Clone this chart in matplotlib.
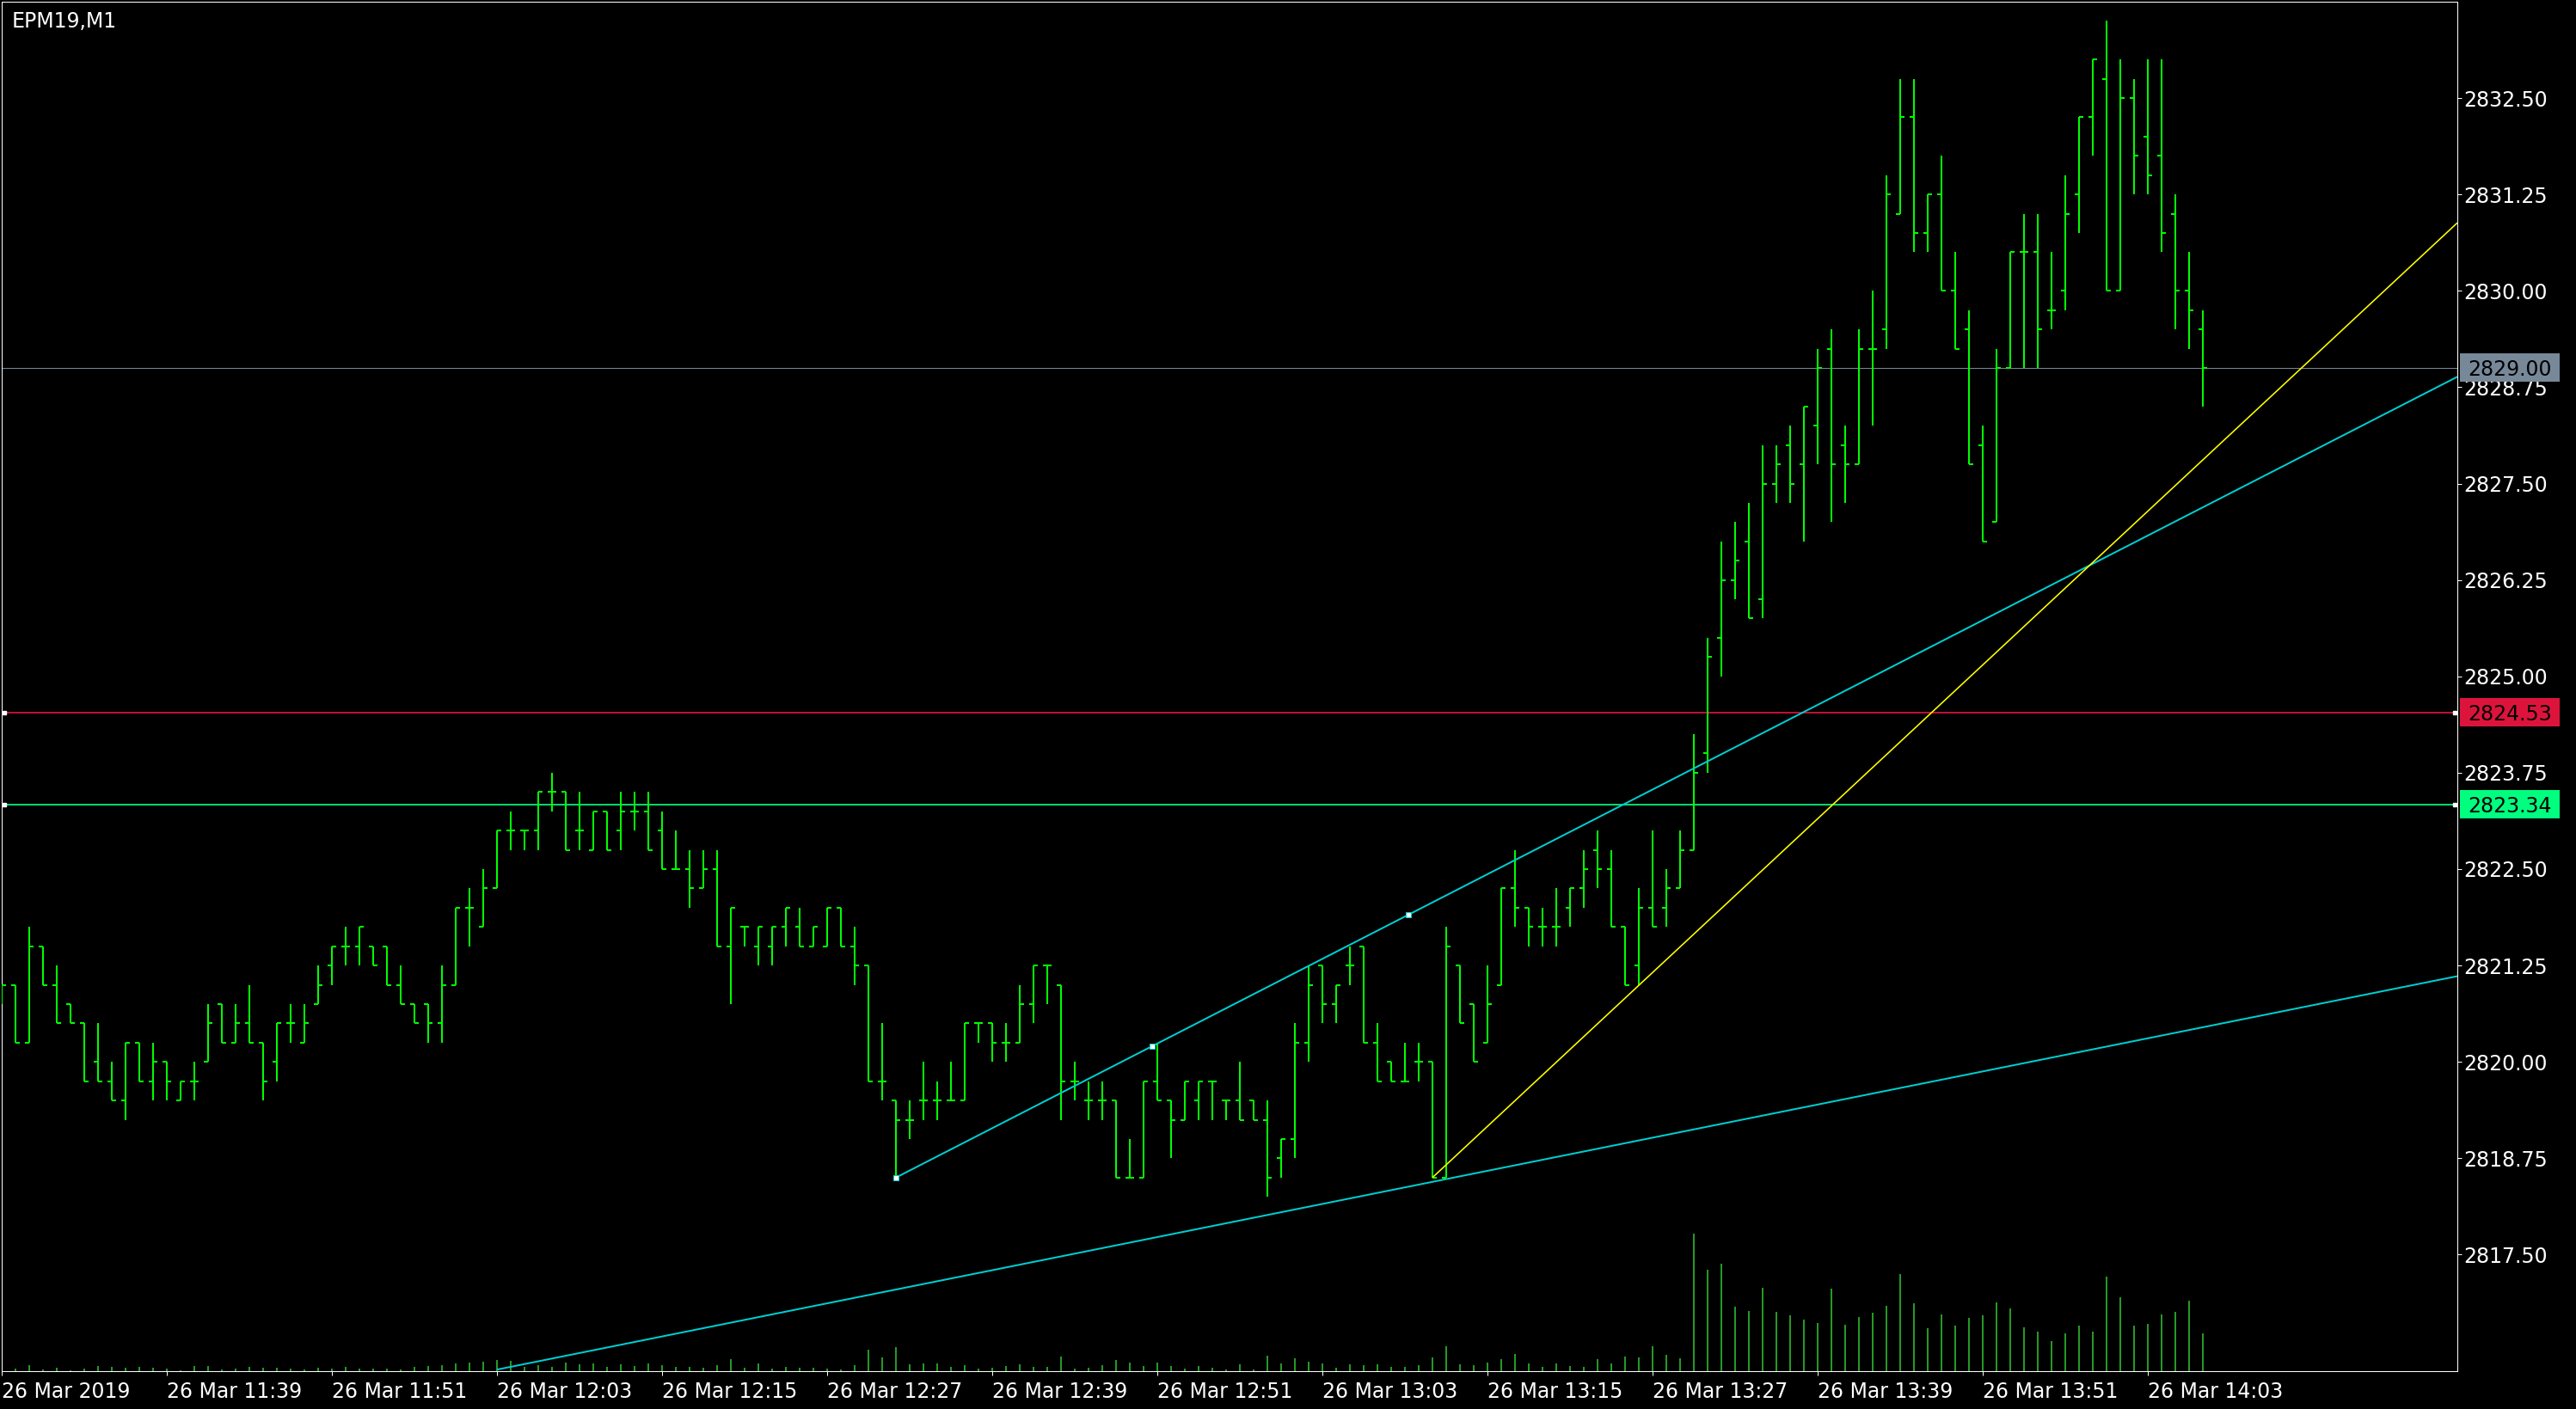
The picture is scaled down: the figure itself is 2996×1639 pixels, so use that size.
import matplotlib
matplotlib.use("Agg")
import matplotlib.pyplot as plt
from matplotlib.patches import Rectangle
import numpy as np

# ---------------- data ----------------
symbol_label = "EPM19,M1"

opens = [
    2821.00, 2821.00, 2820.25, 2821.50, 2821.00, 2820.75, 2820.50, 2820.00, 2819.75, 2819.50,
    2820.25, 2819.75, 2820.00, 2819.50, 2819.75, 2820.00, 2820.75, 2820.25, 2820.50, 2820.25,
    2820.00, 2820.50, 2820.25, 2820.75, 2821.25, 2821.50, 2821.50, 2821.50, 2821.50, 2821.00,
    2820.75, 2820.75, 2820.50, 2821.00, 2822.00, 2821.75, 2822.25, 2823.00, 2823.00, 2823.00,
    2823.50, 2823.50, 2823.00, 2822.75, 2823.25, 2823.00, 2823.25, 2823.25, 2823.00, 2822.50,
    2822.50, 2822.25, 2822.50, 2821.50, 2821.75, 2821.50, 2821.50, 2821.75, 2821.75, 2821.50,
    2821.50, 2822.00, 2821.50, 2821.25, 2819.75, 2819.50, 2819.25, 2819.50, 2819.50, 2819.50,
    2819.50, 2820.50, 2820.50, 2820.25, 2820.25, 2820.75, 2821.25, 2821.00, 2819.75, 2819.50,
    2819.50, 2819.50, 2818.50, 2818.50, 2819.75, 2819.50, 2819.25, 2819.50, 2819.75, 2819.50,
    2819.50, 2819.50, 2819.25, 2818.75, 2819.00, 2820.25, 2821.25, 2820.75, 2821.25, 2821.50,
    2820.25, 2820.00, 2819.75, 2820.00, 2820.00, 2818.50, 2821.25, 2820.75, 2820.25, 2821.00,
    2822.25, 2822.00, 2821.75, 2821.75, 2822.00, 2822.25, 2822.75, 2822.50, 2821.75, 2821.25,
    2822.00, 2822.00, 2822.25, 2822.75, 2824.00, 2825.50, 2826.25, 2826.75, 2826.00, 2827.50,
    2828.00, 2827.75, 2828.25, 2829.25, 2828.00, 2827.75, 2829.25, 2829.50, 2831.00, 2832.25,
    2830.75, 2831.25, 2830.00, 2829.50, 2828.00, 2827.00, 2829.00, 2830.50, 2830.50, 2829.75,
    2830.00, 2831.25, 2832.25, 2832.75, 2830.00, 2832.50, 2832.00, 2831.75, 2831.00, 2830.00,
    2829.50,
]
highs = [
    2821.00, 2821.00, 2821.75, 2821.50, 2821.25, 2820.75, 2820.50, 2820.50, 2820.00, 2820.25,
    2820.25, 2820.25, 2820.00, 2819.75, 2820.00, 2820.75, 2820.75, 2820.75, 2821.00, 2820.25,
    2820.50, 2820.75, 2820.75, 2821.25, 2821.50, 2821.75, 2821.75, 2821.50, 2821.50, 2821.25,
    2820.75, 2820.75, 2821.25, 2822.00, 2822.25, 2822.50, 2823.00, 2823.25, 2823.00, 2823.50,
    2823.75, 2823.50, 2823.50, 2823.25, 2823.25, 2823.50, 2823.50, 2823.50, 2823.25, 2823.00,
    2822.75, 2822.75, 2822.75, 2822.00, 2821.75, 2821.75, 2821.75, 2822.00, 2822.00, 2821.75,
    2822.00, 2822.00, 2821.75, 2821.25, 2820.50, 2819.50, 2819.50, 2820.00, 2819.75, 2820.00,
    2820.50, 2820.50, 2820.50, 2820.50, 2821.00, 2821.25, 2821.25, 2821.00, 2820.00, 2819.75,
    2819.75, 2819.50, 2819.00, 2819.75, 2820.25, 2819.50, 2819.75, 2819.75, 2819.75, 2819.50,
    2820.00, 2819.50, 2819.50, 2819.00, 2820.50, 2821.25, 2821.25, 2821.00, 2821.50, 2821.50,
    2820.50, 2820.00, 2820.25, 2820.25, 2820.00, 2821.75, 2821.25, 2820.75, 2821.25, 2822.25,
    2822.75, 2822.00, 2822.00, 2822.25, 2822.25, 2822.75, 2823.00, 2822.75, 2821.75, 2822.25,
    2823.00, 2822.50, 2823.00, 2824.25, 2825.50, 2826.75, 2827.00, 2827.25, 2828.00, 2828.00,
    2828.25, 2828.50, 2829.25, 2829.50, 2828.25, 2829.50, 2830.00, 2831.50, 2832.75, 2832.75,
    2831.25, 2831.75, 2830.50, 2829.75, 2828.25, 2829.25, 2830.50, 2831.00, 2831.00, 2830.50,
    2831.50, 2832.25, 2833.00, 2833.50, 2833.00, 2832.75, 2833.00, 2833.00, 2831.25, 2830.50,
    2829.75,
]
lows = [
    2820.75, 2820.25, 2820.25, 2821.00, 2820.50, 2820.50, 2819.75, 2819.75, 2819.50, 2819.25,
    2819.75, 2819.50, 2819.50, 2819.50, 2819.50, 2820.00, 2820.25, 2820.25, 2820.25, 2819.50,
    2819.75, 2820.25, 2820.25, 2820.75, 2821.00, 2821.25, 2821.25, 2821.25, 2821.00, 2820.75,
    2820.50, 2820.25, 2820.25, 2821.00, 2821.50, 2821.75, 2822.25, 2822.75, 2822.75, 2822.75,
    2823.25, 2822.75, 2822.75, 2822.75, 2822.75, 2822.75, 2823.00, 2822.75, 2822.50, 2822.50,
    2822.00, 2822.25, 2821.50, 2820.75, 2821.50, 2821.25, 2821.25, 2821.50, 2821.50, 2821.50,
    2821.50, 2821.50, 2821.00, 2819.75, 2819.50, 2818.50, 2819.00, 2819.25, 2819.25, 2819.50,
    2819.50, 2820.25, 2820.00, 2820.00, 2820.25, 2820.50, 2820.75, 2819.25, 2819.50, 2819.25,
    2819.25, 2818.50, 2818.50, 2818.50, 2819.50, 2818.75, 2819.25, 2819.25, 2819.25, 2819.25,
    2819.25, 2819.25, 2818.25, 2818.50, 2818.75, 2820.00, 2820.50, 2820.50, 2821.00, 2820.25,
    2819.75, 2819.75, 2819.75, 2819.75, 2818.50, 2818.50, 2820.50, 2820.00, 2820.25, 2821.00,
    2821.75, 2821.50, 2821.50, 2821.50, 2821.75, 2822.00, 2822.25, 2821.75, 2821.00, 2821.00,
    2821.75, 2821.75, 2822.25, 2822.75, 2823.75, 2825.00, 2826.00, 2825.75, 2825.75, 2827.25,
    2827.25, 2826.75, 2827.75, 2827.00, 2827.25, 2827.75, 2828.25, 2829.25, 2831.00, 2830.50,
    2830.50, 2830.00, 2829.25, 2827.75, 2826.75, 2827.00, 2829.00, 2829.00, 2829.00, 2829.50,
    2829.75, 2830.75, 2831.75, 2830.00, 2830.00, 2831.25, 2831.25, 2830.50, 2829.50, 2829.25,
    2828.50,
]
closes = [
    2821.00, 2820.25, 2821.50, 2821.00, 2820.50, 2820.50, 2819.75, 2819.75, 2819.50, 2820.25,
    2819.75, 2820.00, 2819.75, 2819.75, 2819.75, 2820.50, 2820.25, 2820.50, 2820.25, 2819.75,
    2820.50, 2820.50, 2820.50, 2821.00, 2821.50, 2821.50, 2821.75, 2821.25, 2821.00, 2820.75,
    2820.50, 2820.50, 2821.00, 2822.00, 2822.00, 2822.25, 2823.00, 2823.00, 2823.00, 2823.50,
    2823.50, 2822.75, 2823.00, 2823.25, 2822.75, 2823.25, 2823.25, 2822.75, 2822.50, 2822.50,
    2822.25, 2822.50, 2821.50, 2822.00, 2821.75, 2821.75, 2821.75, 2822.00, 2821.50, 2821.75,
    2822.00, 2821.50, 2821.25, 2819.75, 2819.75, 2819.25, 2819.25, 2819.50, 2819.50, 2819.50,
    2820.50, 2820.50, 2820.25, 2820.25, 2820.75, 2821.25, 2821.25, 2819.75, 2819.75, 2819.50,
    2819.50, 2818.50, 2818.50, 2819.75, 2819.50, 2819.25, 2819.75, 2819.75, 2819.75, 2819.50,
    2819.25, 2819.25, 2818.50, 2819.00, 2820.25, 2821.00, 2820.75, 2821.00, 2821.25, 2820.25,
    2819.75, 2819.75, 2819.75, 2820.00, 2818.50, 2821.50, 2820.50, 2820.00, 2820.75, 2822.25,
    2822.00, 2821.75, 2821.75, 2821.75, 2822.25, 2822.50, 2822.50, 2821.75, 2821.00, 2822.00,
    2821.75, 2822.25, 2822.75, 2823.75, 2825.25, 2826.25, 2826.50, 2825.75, 2827.50, 2827.75,
    2827.50, 2828.50, 2829.00, 2827.75, 2827.75, 2829.25, 2829.25, 2831.25, 2832.25, 2830.75,
    2831.25, 2830.00, 2829.25, 2827.75, 2826.75, 2829.00, 2830.50, 2830.50, 2829.50, 2829.75,
    2831.00, 2832.25, 2833.00, 2830.00, 2832.50, 2831.75, 2831.50, 2830.75, 2830.00, 2829.75,
    2829.00,
]
volumes = [
    6, 9, 21, 7, 12, 3, 9, 18, 15, 12,
    15, 12, 9, 3, 18, 18, 7, 9, 15, 12,
    12, 9, 6, 12, 9, 15, 9, 9, 9, 7,
    15, 18, 21, 27, 30, 33, 39, 36, 15, 21,
    15, 30, 24, 27, 15, 24, 18, 27, 21, 15,
    15, 12, 21, 42, 12, 27, 9, 15, 12, 12,
    9, 6, 21, 75, 48, 84, 24, 27, 27, 15,
    21, 9, 12, 18, 24, 15, 15, 51, 9, 12,
    21, 39, 30, 18, 30, 18, 9, 18, 12, 6,
    24, 6, 54, 27, 45, 33, 27, 12, 24, 21,
    24, 15, 15, 21, 48, 87, 24, 21, 30, 42,
    60, 27, 15, 27, 18, 15, 42, 27, 51, 48,
    87, 57, 45, 480, 354, 375, 225, 210, 291, 207,
    195, 180, 168, 288, 162, 189, 204, 228, 339, 237,
    150, 198, 159, 186, 195, 240, 219, 153, 138, 105,
    132, 159, 138, 330, 258, 159, 165, 198, 207, 246,
    132,
]

price_ticks = [2817.50, 2818.75, 2820.00, 2821.25, 2822.50, 2823.75, 2825.00,
               2826.25, 2827.50, 2828.75, 2830.00, 2831.25, 2832.50]
time_tick_bars = [0, 12, 24, 36, 48, 60, 72, 84, 96, 108, 120, 132, 144, 156]
time_labels = ["26 Mar 2019", "26 Mar 11:39", "26 Mar 11:51", "26 Mar 12:03",
               "26 Mar 12:15", "26 Mar 12:27", "26 Mar 12:39", "26 Mar 12:51",
               "26 Mar 13:03", "26 Mar 13:15", "26 Mar 13:27", "26 Mar 13:39",
               "26 Mar 13:51", "26 Mar 14:03"]

bid_price = 2829.00
red_level = 2824.53
green_level = 2823.34

# trend line anchors: (bar index, price)
upper_cyan = [(65, 2818.50), (102.27, 2821.91)]
lower_cyan = [(36, 2816.01), (121.75, 2819.08)]
yellow_line = [(104, 2818.50), (121.75, 2821.45)]

# ---------------- layout ----------------
W, H, DPI = 2996, 1639, 100
PX = 72.0 / DPI  # points per pixel
ax_l, ax_r, ax_t, ax_b = 2, 2858, 2, 1595
ax_w, ax_h = ax_r - ax_l, ax_b - ax_t
bar_px = 16.0
px_per_pt = 89.7
ref_price, ref_y = 2832.50, 114

fig = plt.figure(figsize=(W / DPI, H / DPI), dpi=DPI, facecolor="black")
rect = [ax_l / W, 1 - ax_b / H, ax_w / W, ax_h / H]
axv = fig.add_axes(rect)
ax = fig.add_axes(rect, sharex=axv)
ax.patch.set_visible(False)
axv.set_facecolor("black")

xmax = ax_w / bar_px
ytop = ref_price + (ref_y - ax_t) / px_per_pt
ybot = ytop - ax_h / px_per_pt
ax.set_xlim(0, xmax)
ax.set_ylim(ybot, ytop)

bars = np.arange(len(opens))
o = np.array(opens); h = np.array(highs); l = np.array(lows); c = np.array(closes)
v = np.array(volumes)

# volumes
axv.vlines(bars, 0, v, color="#32CD32", lw=1.5 * PX)
axv.set_ylim(0, v.max() * ax_h / 160.0)
axv.set_yticks([])
axv.tick_params(axis="x", bottom=False, labelbottom=False)
for s in axv.spines.values():
    s.set_visible(False)

# horizontal levels
ax.axhline(bid_price, color="#778899", lw=1.0 * PX, zorder=1)
ax.axhline(red_level, color="#DC143C", lw=1.7 * PX, zorder=1)
ax.axhline(green_level, color="#00FF7F", lw=1.7 * PX, zorder=1)

# OHLC bars
tick = 0.33
lw_bar = 2.0 * PX
ax.vlines(bars, l, h, color="#00FF00", lw=lw_bar, zorder=3)
ax.hlines(o, bars - tick, bars, color="#00FF00", lw=lw_bar, zorder=3)
ax.hlines(c, bars, bars + tick, color="#00FF00", lw=lw_bar, zorder=3)

# trend lines (rays to the right edge)
def ray(pts, color, lw, z):
    (x1, y1), (x2, y2) = pts
    slope = (y2 - y1) / (x2 - x1)
    ax.plot([x1, xmax], [y1, y1 + slope * (xmax - x1)], color=color, lw=lw,
            zorder=z, solid_capstyle="butt")

ray(lower_cyan, "#00CED1", 2.0 * PX, 4)
ray(upper_cyan, "#00CED1", 2.0 * PX, 4)
ray(yellow_line, "#FFFF00", 1.6 * PX, 4)

# selection squares on upper cyan line
(ux1, uy1), (ux2, uy2) = upper_cyan
ax.plot([ux1, (ux1 + ux2) / 2, ux2], [uy1, (uy1 + uy2) / 2, uy2], ls="none",
        marker="s", ms=6.5 * PX, mfc="white", mec="#00CED1", mew=1.0 * PX, zorder=6)

# selection markers on horizontal lines
for lvl in (red_level, green_level):
    ax.plot([2.5 / bar_px, xmax - 3.5 / bar_px], [lvl, lvl], ls="none", marker="s",
            ms=5 * PX, mfc="white", mec="white", zorder=6, clip_on=False)

# frame
for s in ax.spines.values():
    s.set_color("white")
    s.set_linewidth(1.0 * PX)

# price axis
ax.yaxis.tick_right()
ax.set_yticks(price_ticks)
ax.set_yticklabels([f"{p:.2f}" for p in price_ticks])
ax.tick_params(axis="y", colors="white", length=5 * PX, width=1.0 * PX,
               pad=2 * PX, labelsize=17)

# time axis
ax.set_xticks(time_tick_bars)
ax.set_xticklabels(time_labels, ha="left")
ax.tick_params(axis="x", colors="white", length=5 * PX, width=1.0 * PX,
               pad=7 * PX, labelsize=17)

# price boxes on right axis
box_x0 = (2861 - ax_l) / ax_w
box_w = 116 / ax_w
box_h = 33 / px_per_pt
yax_tr = ax.get_yaxis_transform()
for lvl, fc in ((bid_price, "#778899"), (red_level, "#DC143C"), (green_level, "#00FF7F")):
    ax.add_patch(Rectangle((box_x0, lvl - box_h / 2), box_w, box_h, transform=yax_tr,
                           facecolor=fc, edgecolor="none", clip_on=False, zorder=10))
    ax.text(box_x0 + box_w / 2, lvl, f"{lvl:.2f}", transform=yax_tr, color="black",
            fontsize=17, ha="center", va="center_baseline", zorder=11, clip_on=False)

# symbol label
ax.text((14 - ax_l) / ax_w, (ax_b - 32) / ax_h, symbol_label, transform=ax.transAxes,
        color="white", fontsize=17, ha="left", va="baseline", zorder=12)

fig.savefig("out.png", dpi=DPI, facecolor="black")
